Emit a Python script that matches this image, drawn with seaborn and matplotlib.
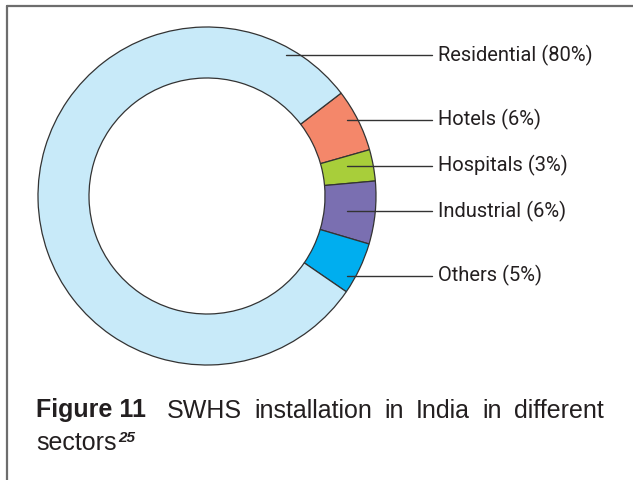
import matplotlib
matplotlib.use("Agg")
import matplotlib.pyplot as plt
import seaborn as sns
from matplotlib.lines import Line2D

# data (clockwise from the top-right edge of Residential)
sectors = ["Hotels", "Hospitals", "Industrial", "Others", "Residential"]
shares = [6, 3, 6, 5, 80]
colors = ["#F4876A", "#A8CE3A", "#7A6FB1", "#00AEEF", "#C8EAF9"]

# labels on the right, top to bottom
label_order = ["Residential", "Hotels", "Hospitals", "Industrial", "Others"]
label_y = [0.834, 0.45, 0.178, -0.089, -0.473]   # layout, axes units
line_x0 = [0.47, 0.83, 0.83, 0.83, 0.83]

caption_words = ["SWHS", "installation", "in", "India", "in", "different"]

sns.set_style("white")
plt.rcParams["font.family"] = ["Liberation Sans", "DejaVu Sans"]

W, H = 633, 480
fig = plt.figure(figsize=(W / 100, H / 100), dpi=100)

# donut
cx, cy, R = 207, 196, 169
ax = fig.add_axes([(cx - R) / W, (H - cy - R) / H, 2 * R / W, 2 * R / H])
wedges, _ = ax.pie(shares, colors=colors, startangle=37.5, counterclock=False,
                   radius=1, wedgeprops=dict(width=51 / 169, edgecolor="#333333",
                                             linewidth=0.9))
for w in wedges:
    w.set_clip_on(False)
ax.set_xlim(-1, 1)
ax.set_ylim(-1, 1)
ax.set_aspect("equal")
ax.axis("off")

share_of = dict(zip(sectors, shares))
for name, y, x0 in zip(label_order, label_y, line_x0):
    ax.plot([x0, 1.331], [y, y], color="#333333", lw=1, clip_on=False)
    ax.text(1.366, y, f"{name} ({share_of[name]}%)", fontsize=14.5,
            family=["Roboto", "DejaVu Sans"], color="#231F20",
            va="center", ha="left", clip_on=False)

# frame (only top and left edges fall inside the picture)
fig.add_artist(Line2D([7.5 / W, 7.5 / W], [0, 1 - 5.5 / H], transform=fig.transFigure,
                      color="#6d6d6d", lw=1.6))
fig.add_artist(Line2D([7.5 / W, 1], [1 - 5.5 / H, 1 - 5.5 / H], transform=fig.transFigure,
                      color="#6d6d6d", lw=1.6))

# caption, first line justified between x=167 and x=604 px
fig.text(36.5 / W, 1 - 417.5 / H, "Figure 11", fontsize=18, fontweight="bold",
         color="#231F20", va="baseline")
fig.canvas.draw()
r = fig.canvas.get_renderer()
words = [fig.text(0, 1 - 417.5 / H, wd, fontsize=18, color="#231F20", va="baseline")
         for wd in caption_words]
widths = [t.get_window_extent(r).width for t in words]
x_left, x_right = 167, 604
gap = (x_right - x_left - sum(widths)) / (len(words) - 1)
x = x_left
for t, wd in zip(words, widths):
    t.set_x(x / W)
    x += wd + gap

t3 = fig.text(36.5 / W, 1 - 450.5 / H, "sectors", fontsize=18, color="#231F20",
              va="baseline")
fig.canvas.draw()
bb3 = t3.get_window_extent(r)
fig.text((bb3.x1 + 1.5) / W, 1 - 442.5 / H, "25", fontsize=11, fontweight="bold",
         style="italic", color="#231F20", va="baseline")

fig.savefig("out.png", dpi=100)
